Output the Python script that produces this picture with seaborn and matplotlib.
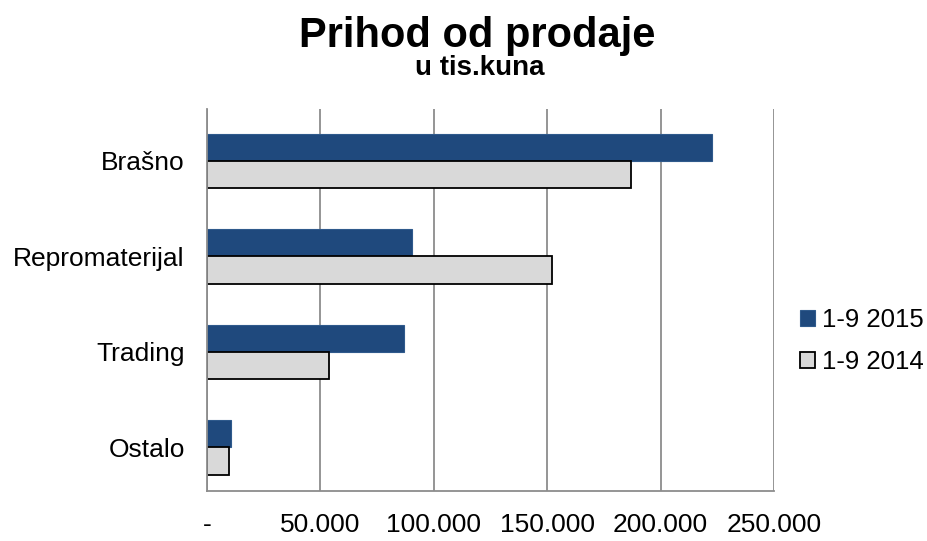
import matplotlib
matplotlib.use("Agg")
import matplotlib.pyplot as plt
import matplotlib.ticker as mticker
import seaborn as sns
import pandas as pd

kategorije = ['Brašno', 'Repromaterijal', 'Trading', 'Ostalo']
prihod_2015 = [222500, 90300, 86800, 10800]
prihod_2014 = [187000, 152000, 53900, 9800]
serije = ['1-9 2015', '1-9 2014']
x_ticks = [0, 50000, 100000, 150000, 200000, 250000]

df = pd.DataFrame({
    'kategorija': kategorije * 2,
    'prihod': prihod_2015 + prihod_2014,
    'serija': [serije[0]] * 4 + [serije[1]] * 4,
})

sns.set_style("white")
plt.rcParams['font.family'] = ['Liberation Sans', 'DejaVu Sans']
plt.rcParams['text.color'] = 'black'
plt.rcParams['xtick.color'] = 'black'
plt.rcParams['ytick.color'] = 'black'

fig = plt.figure(figsize=(9.27, 5.41), dpi=100)
ax = fig.add_axes([0.2233, 0.092, 0.6117, 0.706])

boje = {serije[0]: '#1F497D', serije[1]: '#D9D9D9'}
sns.barplot(data=df, y='kategorija', x='prihod', hue='serija', hue_order=serije,
            palette=boje, orient='h', width=0.57, saturation=1, ax=ax)

# rubovi stupaca
for bar in ax.containers[0]:
    bar.set_edgecolor('#2F5A8C')
    bar.set_linewidth(0.8)
for bar in ax.containers[1]:
    bar.set_edgecolor('black')
    bar.set_linewidth(1.3)
ax.set_ylim(3.46, -0.54)

ax.set_xlim(0, 250000)
ax.set_xticks(x_ticks)
ax.xaxis.set_major_formatter(mticker.FuncFormatter(
    lambda v, p: '-' if v == 0 else f"{int(v):,}".replace(',', '.')))
ax.grid(axis='x', color='#8C8C8C', linewidth=1.3)
ax.set_axisbelow(True)
for s in ['top', 'right']:
    ax.spines[s].set_visible(False)
for s in ['left', 'bottom']:
    ax.spines[s].set_color('#8C8C8C')
    ax.spines[s].set_linewidth(1.3)
ax.tick_params(axis='both', length=0, labelsize=19, labelcolor='black')
ax.tick_params(axis='x', pad=16)
ax.tick_params(axis='y', pad=16)
ax.set_xlabel('')
ax.set_ylabel('')

leg = ax.legend(loc='center left', bbox_to_anchor=(0.852, 0.37), bbox_transform=fig.transFigure,
                frameon=False, fontsize=18.5, handlelength=0.6, handleheight=0.6,
                handletextpad=0.25, labelspacing=0.7, borderaxespad=0)
for h in leg.legend_handles:
    h.set_edgecolor('black')
    h.set_linewidth(1.3)
leg.legend_handles[0].set_edgecolor('#2F5A8C')
leg.legend_handles[0].set_linewidth(0.8)
for t in leg.get_texts():
    t.set_color('black')

fig.text(0.515, 0.934, 'Prihod od prodaje', ha='center', va='center',
         fontsize=30, fontweight='bold', color='black')
fig.text(0.517, 0.874, 'u tis.kuna', ha='center', va='center',
         fontsize=20, fontweight='bold', color='black')

fig.savefig('out.png', dpi=100)
